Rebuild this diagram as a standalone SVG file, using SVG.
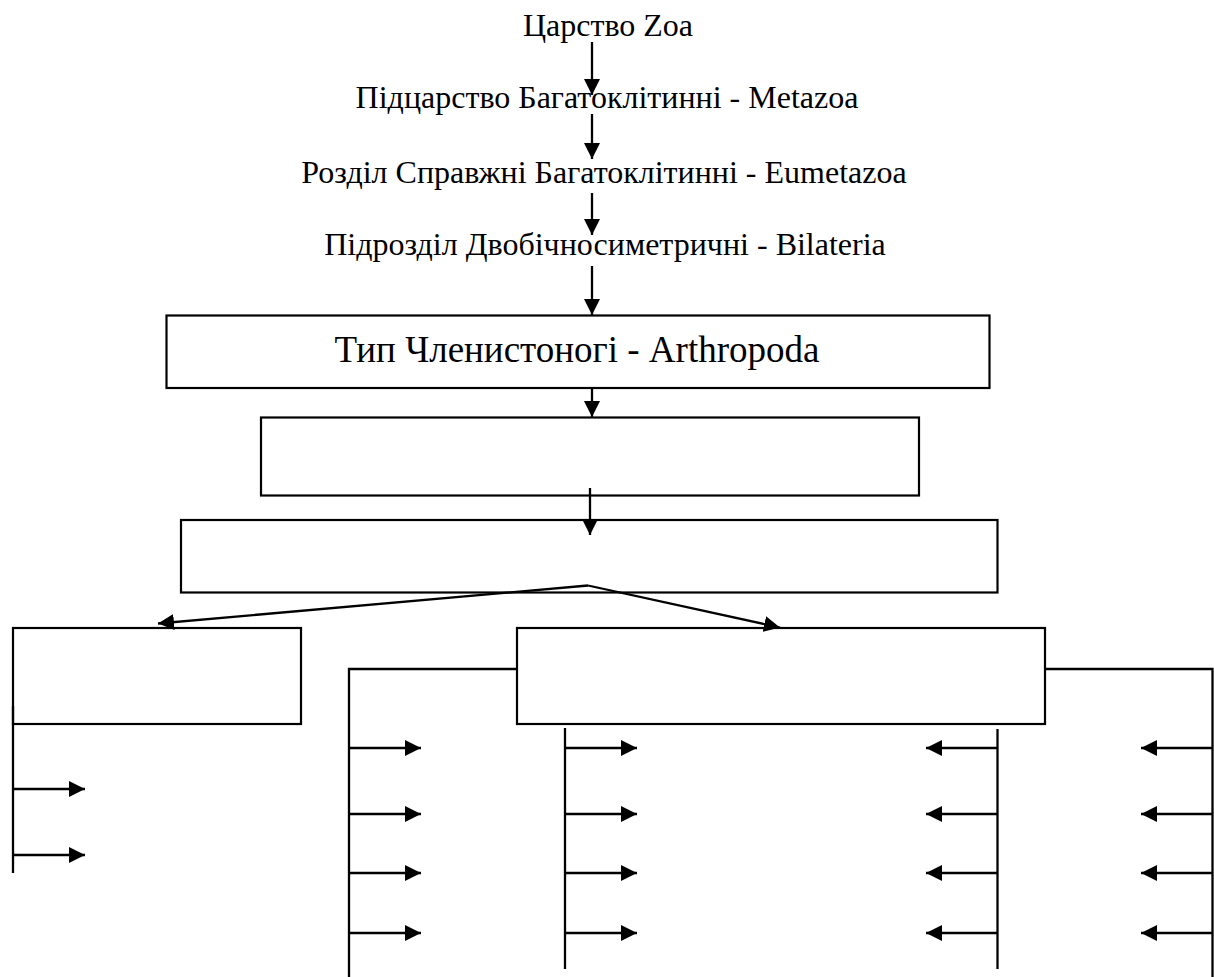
<svg xmlns="http://www.w3.org/2000/svg" width="1214" height="977" viewBox="0 0 1214 977">
<style>
.lbl{fill:#000;text-anchor:middle;font-family:"Liberation Serif","DejaVu Serif",serif}
.box{fill:#fff;stroke:#000;stroke-width:2.2}
.ln{fill:none;stroke:#000;stroke-width:2.3}
.arr{fill:none;stroke:#000;stroke-width:2.3;marker-end:url(#ah)}
</style>
<defs>
<marker id="ah" markerUnits="userSpaceOnUse" markerWidth="17" markerHeight="17" refX="16" refY="8" orient="auto" viewBox="0 0 17 17">
<path d="M0,0 L16,8 L0,16 z" fill="#000"/>
</marker>
</defs>
<rect width="1214" height="977" fill="#fff"/>
<g id="n-zoa"><text class="lbl" font-family="'Liberation Serif', 'DejaVu Serif', serif" x="608" y="36" font-size="32">Царство Zoa</text></g>
<g id="n-metazoa"><text class="lbl" font-family="'Liberation Serif', 'DejaVu Serif', serif" x="607" y="108" font-size="32">Підцарство Багатоклітинні - Metazoa</text></g>
<g id="n-eumetazoa"><text class="lbl" font-family="'Liberation Serif', 'DejaVu Serif', serif" x="604" y="183" font-size="32">Розділ Справжні Багатоклітинні - Eumetazoa</text></g>
<g id="n-bilateria"><text class="lbl" font-family="'Liberation Serif', 'DejaVu Serif', serif" x="605" y="255" font-size="32">Підрозділ Двобічносиметричні - Bilateria</text></g>
<g id="n-arthropoda"><rect class="box" x="166.5" y="315.5" width="823" height="72.5"/><text class="lbl" font-family="'Liberation Serif', 'DejaVu Serif', serif" x="577" y="362" font-size="37">Тип Членистоногі - Arthropoda</text></g>
<g id="n-box2"><rect class="box" x="261" y="417.5" width="658" height="78"/></g>
<g id="n-box3"><rect class="box" x="181" y="520" width="816.5" height="72.5"/></g>
<g id="n-boxL"><rect class="box" x="13" y="628" width="288" height="96"/></g>
<g id="n-boxR"><rect class="box" x="517" y="628" width="528" height="96"/></g>
<g id="connectors">
<line class="arr" x1="592" y1="42" x2="592" y2="95"/>
<line class="arr" x1="592" y1="114" x2="592" y2="159"/>
<line class="arr" x1="592" y1="193" x2="592" y2="235"/>
<line class="arr" x1="592" y1="266" x2="592" y2="315"/>
<line class="arr" x1="592" y1="388" x2="592" y2="417"/>
<line class="arr" x1="590" y1="488" x2="590" y2="535"/>
<line class="arr" x1="588" y1="585.5" x2="158" y2="623.5"/>
<line class="arr" x1="588" y1="585.5" x2="780" y2="627.5"/>
<line class="ln" x1="13" y1="706" x2="13" y2="873"/>
<line class="arr" x1="13" y1="789" x2="85" y2="789"/>
<line class="arr" x1="13" y1="855" x2="85" y2="855"/>
<polyline class="ln" points="517,669 349,669 349,977"/>
<line class="arr" x1="349" y1="748" x2="421" y2="748"/>
<line class="arr" x1="349" y1="814" x2="421" y2="814"/>
<line class="arr" x1="349" y1="873" x2="421" y2="873"/>
<line class="arr" x1="349" y1="933" x2="421" y2="933"/>
<line class="ln" x1="565" y1="728" x2="565" y2="969"/>
<line class="arr" x1="565" y1="748" x2="637" y2="748"/>
<line class="arr" x1="565" y1="814" x2="637" y2="814"/>
<line class="arr" x1="565" y1="873" x2="637" y2="873"/>
<line class="arr" x1="565" y1="933" x2="637" y2="933"/>
<line class="ln" x1="997.5" y1="729" x2="997.5" y2="969"/>
<line class="arr" x1="997.5" y1="748" x2="926" y2="748"/>
<line class="arr" x1="997.5" y1="814" x2="926" y2="814"/>
<line class="arr" x1="997.5" y1="873" x2="926" y2="873"/>
<line class="arr" x1="997.5" y1="933" x2="926" y2="933"/>
<polyline class="ln" points="1045,669 1212.5,669 1212.5,977"/>
<line class="arr" x1="1212.5" y1="748" x2="1141" y2="748"/>
<line class="arr" x1="1212.5" y1="814" x2="1141" y2="814"/>
<line class="arr" x1="1212.5" y1="873" x2="1141" y2="873"/>
<line class="arr" x1="1212.5" y1="933" x2="1141" y2="933"/>
</g>
</svg>
